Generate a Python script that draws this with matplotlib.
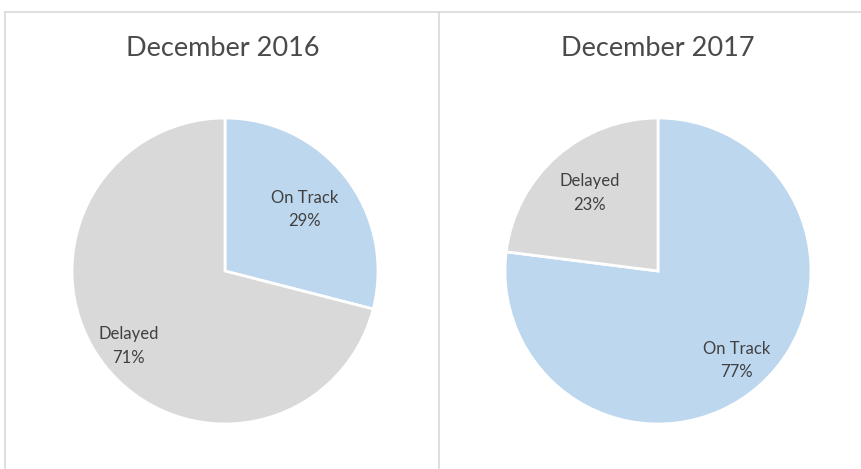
import numpy as np
import matplotlib
matplotlib.use("Agg")
import matplotlib.pyplot as plt
from matplotlib.lines import Line2D

titles = ["December 2016", "December 2017"]
categories = ["On Track", "Delayed"]
values_2016 = [29, 71]
values_2017 = [77, 23]
label_dist_2016 = [0.66, 0.80]
label_dist_2017 = [0.78, 0.68]

colors = ["#BDD7EE", "#D9D9D9"]
W, H = 862, 469
fig = plt.figure(figsize=(W / 100, H / 100), dpi=100)
fig.patch.set_facecolor("white")

font = ["Lato", "DejaVu Sans"]
text_color = "#404040"
title_color = "#4a4a4a"

centers = [(225, 271), (658, 271)]
R = 153
title_x = [223, 658]

for i, (vals, dists) in enumerate([(values_2016, label_dist_2016), (values_2017, label_dist_2017)]):
    cx, cy = centers[i]
    ax = fig.add_axes([(cx - R) / W, (H - cy - R) / H, 2 * R / W, 2 * R / H])
    wedges, _ = ax.pie(vals, colors=colors, startangle=90, counterclock=False,
                       wedgeprops=dict(edgecolor="white", linewidth=2))
    ax.set_xlim(-1, 1)
    ax.set_ylim(-1, 1)
    ax.set_aspect("equal")
    ax.axis("off")
    for w, cat, v, d in zip(wedges, categories, vals, dists):
        ang = np.deg2rad((w.theta1 + w.theta2) / 2)
        ax.text(d * np.cos(ang), d * np.sin(ang), f"{cat}\n{v}%", ha="center", va="center",
                fontsize=12, color=text_color, family=font, linespacing=1.55)
    fig.text(title_x[i] / W, 1 - 48 / H, titles[i], ha="center", va="center",
             fontsize=19.5, color=title_color, family=font)

line_color = "#D9D9D9"
fig.add_artist(Line2D([5 / W, 1], [1 - 12 / H, 1 - 12 / H], color=line_color, lw=1.2, transform=fig.transFigure))
fig.add_artist(Line2D([5 / W, 5 / W], [0, 1 - 12 / H], color=line_color, lw=1.2, transform=fig.transFigure))
fig.add_artist(Line2D([439 / W, 439 / W], [0, 1 - 12 / H], color=line_color, lw=1.2, transform=fig.transFigure))

fig.savefig("out.png", dpi=100)
